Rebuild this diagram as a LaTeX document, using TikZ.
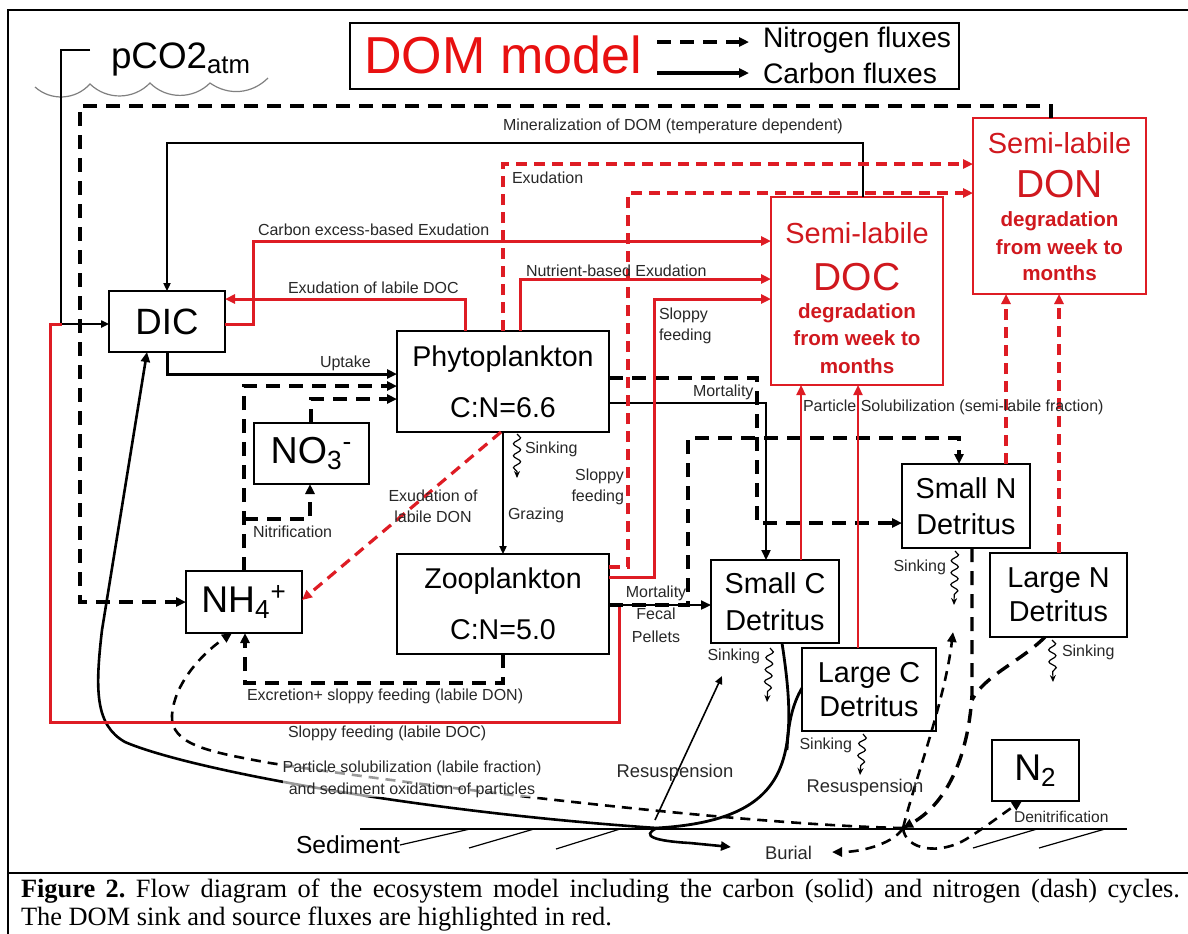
\documentclass[tikz,border=0pt]{standalone}
\usepackage{fontspec}
\setmainfont{Liberation Sans}
\newfontfamily\capfont{Liberation Serif}
\usetikzlibrary{arrows.meta,decorations.pathmorphing}
\definecolor{dred}{RGB}{222,28,36}
\definecolor{tred}{RGB}{208,24,30}
\definecolor{bred}{RGB}{232,16,16}
\definecolor{lgray}{RGB}{40,40,40}
\frenchspacing
\begin{document}
\begin{tikzpicture}[x=0.5pt,y=-0.5pt,
  every node/.style={inner sep=0pt,outer sep=0pt},
  box/.style={draw,line width=1pt,fill=white},
  rbox/.style={draw=dred,line width=1.3pt,fill=white},
  lab/.style={font=\fontsize{8}{10.5}\selectfont,text=lgray},
  mlab/.style={font=\fontsize{9.2}{11}\selectfont,text=lgray},
  atip/.style={-{Triangle[length=5pt,width=4.5pt]}},
  stip/.style={-{Triangle[length=4pt,width=3.6pt]}},
  cthick/.style={line width=1.5pt,atip},
  cmed/.style={line width=1.3pt,atip},
  cthin/.style={line width=0.8pt,stip},
  ndash/.style={line width=1.7pt,dash pattern=on 7pt off 4.5pt,atip},
  ndashb/.style={line width=1.3pt,dash pattern=on 5pt off 3.5pt,atip},
  rsolid/.style={dred,line width=1.5pt,atip},
  rthin/.style={dred,line width=1.1pt,atip},
  rdash/.style={dred,line width=1.6pt,dash pattern=on 5.5pt off 3.5pt,atip},
  sinkw/.style={line width=0.6pt,decorate,decoration={snake,amplitude=1.8pt,segment length=6pt,post length=3pt},-{Stealth[length=3.5pt,width=3pt]}},
  dtext/.style={text=tred,font=\bfseries\fontsize{10.3}{11}\selectfont},
]
\useasboundingbox (0,0) rectangle (1188,933);
\fill[white] (0,0) rectangle (1188,933);

% frame
\draw[line width=1pt] (8,940) -- (8,10) -- (1195,10);
\draw[line width=1.3pt] (8,873) -- (1195,873);

% legend / title
\node[draw,line width=0.9pt,minimum width=304.5pt,minimum height=33pt] (legend) at (654.5,56) {};
\node[font=\fontsize{26}{28}\selectfont,text=bred] (title) at (503,55) {DOM model};
\coordinate (lg1a) at (657,42); \coordinate (lg1b) at (749,42);
\coordinate (lg2a) at (657,73); \coordinate (lg2b) at (749,73);
\draw[line width=1.6pt,dash pattern=on 7pt off 4.5pt,atip] (lg1a) -- (lg1b);
\draw[line width=1.6pt,atip] (lg2a) -- (lg2b);
\node[anchor=west,font=\fontsize{14.1}{15}\selectfont] (nflux) at (763,40) {Nitrogen fluxes};
\node[anchor=west,font=\fontsize{14.1}{15}\selectfont] (cflux) at (763,73) {Carbon fluxes};

% atmosphere
\node[anchor=base west,font=\fontsize{18.4}{20}\selectfont] (pco2) at (111,68) {pCO2\textsubscript{atm}};
\draw[gray,line width=0.6pt] (35,87) to[bend right=45] (90,84) to[bend right=45] (150,83) to[bend right=45] (210,83) to[bend right=40] (268,78);

% boxes
\node[box,minimum width=58pt,minimum height=30.5pt,font=\fontsize{18.3}{20}\selectfont] (dic) at (167,321.5) {DIC};
\node[box,minimum width=106pt,minimum height=50.5pt,align=center,font=\fontsize{14.3}{25.5}\selectfont] (phyto) at (503,381.5) {Phytoplankton\\C:N=6.6};
\node[box,minimum width=106pt,minimum height=50pt,align=center,font=\fontsize{14.3}{25.5}\selectfont] (zoo) at (503,604) {Zooplankton\\C:N=5.0};
\node[box,minimum width=57.5pt,minimum height=30.5pt,font=\fontsize{18.8}{20}\selectfont] (no3) at (311.5,453.5) {NO\textsubscript{3}\textsuperscript{-}};
\node[box,minimum width=58pt,minimum height=31pt,font=\fontsize{18.6}{20}\selectfont] (nh4) at (244,602) {NH\textsubscript{4}\textsuperscript{+}};
\node[box,minimum width=43.5pt,minimum height=30.5pt,font=\fontsize{18.6}{20}\selectfont] (n2) at (1035.5,770.5) {N\textsubscript{2}};
\node[box,minimum width=64pt,minimum height=42pt,align=center,font=\fontsize{14.4}{18}\selectfont] (smalln) at (966,506) {Small N\\Detritus};
\node[box,minimum width=68.5pt,minimum height=42pt,align=center,font=\fontsize{14.4}{17}\selectfont] (largen) at (1058.5,595) {Large N\\Detritus};
\node[box,minimum width=64pt,minimum height=41.5pt,align=center,font=\fontsize{14.4}{18.5}\selectfont] (smallc) at (775,601.5) {Small C\\Detritus};
\node[box,minimum width=67pt,minimum height=41.5pt,align=center,font=\fontsize{14.4}{17}\selectfont] (largec) at (869,689.5) {Large C\\Detritus};
\node[rbox,minimum width=86pt,minimum height=94pt] (doc) at (857,291) {};
\node[rbox,minimum width=86.5pt,minimum height=88pt] (don) at (1059.5,206) {};

% DOC / DON texts
\node[text=tred,font=\fontsize{14.5}{15}\selectfont] (doct1) at (857,233) {Semi-labile};
\node[text=tred,font=\fontsize{19.5}{20}\selectfont] (doct2) at (857,277) {DOC};
\node[dtext] (doct3) at (857,313) {degradation};
\node[dtext] (doct4) at (857,338) {from week to};
\node[dtext] (doct5) at (857,366) {months};
\node[text=tred,font=\fontsize{14.5}{15}\selectfont] (dont1) at (1059.5,143) {Semi-labile};
\node[text=tred,font=\fontsize{19.5}{20}\selectfont] (dont2) at (1059.5,184) {DON};
\node[dtext] (dont3) at (1059.5,221) {degradation};
\node[dtext] (dont4) at (1059.5,247) {from week to};
\node[dtext] (dont5) at (1059.5,273) {months};

% sediment
\node[anchor=west,font=\fontsize{12.3}{13}\selectfont] (sed) at (296,845) {Sediment};
\draw[line width=0.6pt] (360,829) -- (1127,829);
\draw[line width=0.6pt] (sed.east) -- (470,829);
\draw[line width=0.6pt] (469,848) -- (534,829) (556,849) -- (620,829) (973,848) -- (1037,829) (1039,848) -- (1105,829);

% coordinates
\coordinate (co2a) at (90,50);
\coordinate (sj) at (657,828);
\coordinate (snp) at (903,828);
\coordinate (rsc) at (722,676);
\coordinate (rscs) at (655,820);
\coordinate (rsn) at (953,632);
\coordinate (bur) at (731,847);
\coordinate (burn) at (832,852);
\coordinate (r5s) at (619,607);
\coordinate (r5e) at (62,324);

% ---------- black solid ----------
\draw[line width=0.9pt,stip] (co2a) -- (61,50) |- (dic.west |- 0,324);
\draw[cthin] (doc.north -| 863,0) |- (dic.north |- 0,143) -- (dic.north);
\draw[cthick] (dic.south) |- (phyto.west |- 0,374);
\draw[cthin] (phyto.south) -- (zoo.north);
\draw[line width=1.1pt,atip] (phyto.east |- 0,403) -| (smallc.north -| 766,0);
\draw[line width=1.1pt,atip] (zoo.east |- 0,605) -- (smallc.west |- 0,605);
\draw[cmed] (sj) .. controls (420,812) and (190,770) .. (125,742) .. controls (95,725) and (95,690) .. (102,630) -- (dic.south -| 147,0);
\draw[line width=1.4pt] (smallc.south -| 782,0) .. controls (800,760) and (790,820) .. (sj);
\draw[line width=1.4pt] (largec.west |- 0,688) .. controls (792,705) and (788,725) .. (787,750);
\draw[cmed] (sj) .. controls (640,836) and (655,841) .. (690,843) -- (bur);
\draw[cthin] (rscs) -- (rsc);

% ---------- black dashed ----------
\draw[ndash] (don.north -| 1051,0) |- (80,106) |- (nh4.west);
\draw[ndash] (nh4.north) |- (phyto.west |- 0,386);
\draw[ndash] (nh4.north |- 0,519) -| (no3.south -| 310,0);
\draw[ndash] (no3.north -| 311,0) |- (phyto.west |- 0,399);
\draw[ndash] (phyto.east |- 0,378) -| (757,523) -- (smalln.west |- 0,523);
\draw[ndash] (zoo.east |- 0,605) -| (688,438) -| (smalln.north -| 959,0);
\draw[ndash] (zoo.south) |- (245,683) -- (nh4.south -| 245,0);
\draw[ndash] (smalln.south -| 972,0) -- (972,695) .. controls (968,760) and (945,805) .. (snp);
\draw[ndash,-] (largen.south -| 1045,0) .. controls (1020,662) and (985,675) .. (972,700);
\draw[ndashb] (snp) .. controls (915,780) and (945,700) .. (rsn);
\draw[ndashb] (snp) .. controls (895,842) and (865,852) .. (burn);
\draw[ndashb] (snp) .. controls (905,850) and (940,856) .. (968,838) .. controls (990,824) and (1005,812) .. (n2.south -| 1022,0);
\draw[ndashb] (snp) .. controls (750,825) and (450,790) .. (270,763) .. controls (210,752) and (170,745) .. (172,715) .. controls (174,685) and (200,655) .. (nh4.south -| 232,0);

% ---------- red solid ----------
\draw[rsolid] (dic.east |- 0,324) -- (253,324) |- (doc.west |- 0,241);
\draw[rsolid] (phyto.north -| 465,0) |- (dic.east |- 0,299);
\draw[rsolid] (phyto.north -| 520,0) |- (doc.west |- 0,279);
\draw[rsolid] (zoo.east |- 0,577) -- (654,577) |- (doc.west |- 0,299);
\draw[dred,line width=1.5pt] (r5s) -- (619,722) -| (50,324) -- (r5e);
\draw[rthin] (smallc.north -| 801,0) -- (doc.south -| 801,0);
\draw[rthin] (largec.north -| 858,0) -- (doc.south -| 858,0);

% ---------- red dashed ----------
\draw[rdash] (phyto.north) |- (don.west |- 0,164);
\draw[rdash] (zoo.east |- 0,567) -- (628,567) |- (don.west |- 0,193);
\draw[rdash] (phyto.south -| 501,0) -- (nh4.east |- 0,600);
\draw[rdash] (smalln.north -| 1006,0) -- (don.south -| 1006,0);
\draw[rdash] (largen.north -| 1059,0) -- (don.south -| 1059,0);

% ---------- sinking squiggles ----------
\draw[sinkw] (517,434) -- (517,478);
\draw[sinkw] (770,648) -- (767,702);
\draw[sinkw] (863,734) -- (860,775);
\draw[sinkw] (955,551) -- (954,605);
\draw[sinkw] (1052,640) -- (1053,682);

% ---------- labels ----------
\node[lab] (l1) at (673,126) {Mineralization of DOM (temperature dependent)};
\node[lab,anchor=west] (l2) at (512,178) {Exudation};
\node[lab,anchor=west] (l3) at (258,230) {Carbon excess-based Exudation};
\node[lab,anchor=west] (l4) at (288,288) {Exudation of labile DOC};
\node[lab,anchor=west] (l5) at (526,271) {Nutrient-based Exudation};
\node[lab,anchor=west,align=left] (l6) at (659,326) {Sloppy\\feeding};
\node[lab,anchor=west] (l7) at (320,363) {Uptake};
\node[lab,anchor=west] (l8) at (693,392) {Mortality};
\node[lab,anchor=west] (l9) at (803,407) {Particle Solubilization (semi-labile fraction)};
\node[lab,anchor=west] (l10) at (525,449) {Sinking};
\node[lab,anchor=east,align=right] (l11) at (624,487) {Sloppy\\feeding};
\node[lab,align=center] (l12) at (433,506) {Exudation of\\labile DON};
\node[lab,anchor=west] (l13) at (508,515) {Grazing};
\node[lab,anchor=west] (l14) at (253,532) {Nitrification};
\node[lab,align=center,font=\fontsize{8}{11.2}\selectfont] (l15) at (656,614) {Mortality\\Fecal\\Pellets};
\node[lab,anchor=west] (l16) at (247,696) {Excretion+ sloppy feeding (labile DON)};
\node[lab,anchor=west] (l17) at (288,733) {Sloppy feeding (labile DOC)};
\node[lab,align=center,fill=white,fill opacity=0.6,text opacity=1,font=\fontsize{8}{11}\selectfont] (l18) at (412,779) {Particle solubilization (labile fraction)\\and sediment oxidation of particles};
\node[lab,anchor=east] (l19) at (760,656) {Sinking};
\node[lab,anchor=east] (l20) at (852,745) {Sinking};
\node[lab,anchor=east] (l21) at (946,567) {Sinking};
\node[lab,anchor=west] (l22) at (1062,652) {Sinking};
\node[mlab] (l23) at (675,773) {Resuspension};
\node[mlab] (l24) at (865,788) {Resuspension};
\node[mlab,anchor=west] (burial) at (765,853) {Burial};
\node[lab,anchor=west,font=\fontsize{7.8}{9}\selectfont] (l25) at (1014,817) {Denitrification};

% caption
\node[anchor=west,font=\capfont\fontsize{13.2}{16}\selectfont] (cap1) at (21,891) {\makebox[579.5pt][s]{\textbf{Figure 2.} Flow diagram of the ecosystem model including the carbon (solid) and nitrogen (dash) cycles.}};
\node[anchor=west,font=\capfont\fontsize{13.2}{16}\selectfont] (cap2) at (21,919) {The DOM sink and source fluxes are highlighted in red.};
\end{tikzpicture}
\end{document}
